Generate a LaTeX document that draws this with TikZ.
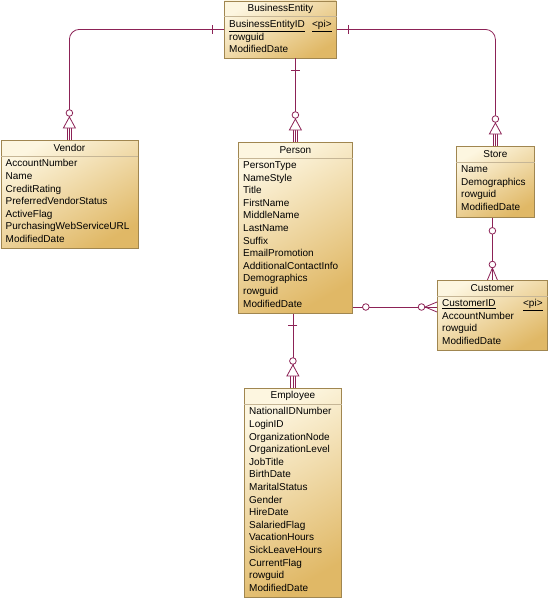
\documentclass[tikz,border=0pt]{standalone}
\usepackage{fontspec}
\setmainfont{Liberation Sans}
\usetikzlibrary{positioning}
\definecolor{entlight}{RGB}{253,246,224}
\definecolor{entdark}{RGB}{224,184,102}
\definecolor{entedge}{RGB}{160,134,80}
\definecolor{relline}{RGB}{140,34,86}

\begin{document}
\begin{tikzpicture}[x=1pt, y=-1pt,
    every node/.style={font=\fontsize{10}{12.6}\selectfont},
    entity/.style={draw=entedge, line width=0.8pt, anchor=north west, inner sep=0pt,
                   top color=entlight, bottom color=entdark, shading angle=30},
    etitle/.style={anchor=center, inner sep=0pt},
    attrs/.style={anchor=north west, align=left, inner sep=0pt},
    pk/.style={anchor=north east, inner sep=0pt},
    hdr/.style={draw=entedge!60, line width=0.6pt},
    rel/.style={draw=relline, line width=0.8pt},
    onebar/.pic={\draw[rel] (-4.5pt,12pt) -- (4.5pt,12pt);},
    isa/.pic={
        \draw[rel] (-2.3pt,0pt) -- (-2.3pt,12pt) (2.3pt,0pt) -- (2.3pt,12pt);
        \draw[rel, fill=white] (-6pt,12pt) -- (6pt,12pt) -- (0pt,23pt) -- cycle;
        \draw[rel, fill=white] (0pt,27pt) circle (3.3pt);},
    zeroone/.pic={\draw[rel, fill=white] (0pt,13pt) circle (3.3pt);},
    zeromany/.pic={
        \draw[rel] (-5pt,0pt) -- (0pt,12pt) -- (5pt,0pt);
        \draw[rel, fill=white] (0pt,15.5pt) circle (3.3pt);},
]
\useasboundingbox (0,0) rectangle (549,600);

% ── BusinessEntity (top) ─────────────────────────────────────────────────────
\node[entity, minimum width=112pt, minimum height=57pt] (be) at (224,0.5) {};
\node[etitle] at ([yshift=-8pt]be.north) {BusinessEntity};
\draw[hdr] ([yshift=-16pt]be.north west) -- ([yshift=-16pt]be.north east);
\node[attrs] at ([shift={(5pt,-19.5pt)}]be.north west) {\underline{BusinessEntityID}\\rowguid\\ModifiedDate};
\node[pk] at ([shift={(-5pt,-19.5pt)}]be.north east) {\underline{<pi>}};

% ── Vendor (left) ────────────────────────────────────────────────────────────
\node[entity, minimum width=137pt, minimum height=108pt] (vendor) at (0.5,140) {};
\node[etitle] at ([yshift=-8pt]vendor.north) {Vendor};
\draw[hdr] ([yshift=-16pt]vendor.north west) -- ([yshift=-16pt]vendor.north east);
\node[attrs] at ([shift={(5pt,-19.5pt)}]vendor.north west) {AccountNumber\\Name\\CreditRating\\PreferredVendorStatus\\ActiveFlag\\PurchasingWebServiceURL\\ModifiedDate};

% ── Person (middle) ──────────────────────────────────────────────────────────
\node[entity, minimum width=114pt, minimum height=171pt] (person) at (238,142) {};
\node[etitle] at ([yshift=-8pt]person.north) {Person};
\draw[hdr] ([yshift=-16pt]person.north west) -- ([yshift=-16pt]person.north east);
\node[attrs] at ([shift={(5pt,-19.5pt)}]person.north west) {PersonType\\NameStyle\\Title\\FirstName\\MiddleName\\LastName\\Suffix\\EmailPromotion\\AdditionalContactInfo\\Demographics\\rowguid\\ModifiedDate};

% ── Store (right) ────────────────────────────────────────────────────────────
\node[entity, minimum width=78pt, minimum height=71pt] (store) at (456,146) {};
\node[etitle] at ([yshift=-8pt]store.north) {Store};
\draw[hdr] ([yshift=-16pt]store.north west) -- ([yshift=-16pt]store.north east);
\node[attrs] at ([shift={(5pt,-19.5pt)}]store.north west) {Name\\Demographics\\rowguid\\ModifiedDate};

% ── Customer (right, lower) ──────────────────────────────────────────────────
\node[entity, minimum width=110pt, minimum height=70pt] (customer) at (437,280) {};
\node[etitle] at ([yshift=-8pt]customer.north) {Customer};
\draw[hdr] ([yshift=-16pt]customer.north west) -- ([yshift=-16pt]customer.north east);
\node[attrs] at ([shift={(5pt,-19.5pt)}]customer.north west) {\underline{CustomerID}\\AccountNumber\\rowguid\\ModifiedDate};
\node[pk] at ([shift={(-5pt,-19.5pt)}]customer.north east) {\underline{<pi>}};
\coordinate (custlink) at ([yshift=-27pt]customer.north west);

% ── Employee (bottom) ────────────────────────────────────────────────────────
\node[entity, minimum width=97pt, minimum height=209pt] (employee) at (244,388) {};
\node[etitle] at ([yshift=-8pt]employee.north) {Employee};
\draw[hdr] ([yshift=-16pt]employee.north west) -- ([yshift=-16pt]employee.north east);
\node[attrs] at ([shift={(5pt,-19.5pt)}]employee.north west) {NationalIDNumber\\LoginID\\OrganizationNode\\OrganizationLevel\\JobTitle\\BirthDate\\MaritalStatus\\Gender\\HireDate\\SalariedFlag\\VacationHours\\SickLeaveHours\\CurrentFlag\\rowguid\\ModifiedDate};

% ── Relationships ────────────────────────────────────────────────────────────
\draw[rel, rounded corners=10pt] (be.west) -| (vendor.north);
\draw[rel, rounded corners=10pt] (be.east) -| (store.north);
\draw[rel] (be.south -| person.north) -- (person.north);
\draw[rel] (person.south -| employee.north) -- (employee.north);
\draw[rel] (store.south -| customer.north) -- (customer.north);
\draw[rel] (person.east |- custlink) -- (custlink);

\pic[rotate=90]  at (be.west) {onebar};
\pic[rotate=-90] at (be.east) {onebar};
\pic[rotate=180] at (be.south -| person.north) {onebar};
\pic[rotate=180] at (person.south -| employee.north) {onebar};
\pic at (vendor.north) {isa};
\pic at (store.north) {isa};
\pic at (person.north) {isa};
\pic at (employee.north) {isa};
\pic[rotate=180] at (store.south -| customer.north) {zeroone};
\pic at (customer.north) {zeromany};
\pic[rotate=-90] at (person.east |- custlink) {zeroone};
\pic[rotate=90]  at (custlink) {zeromany};

\end{tikzpicture}
\end{document}
